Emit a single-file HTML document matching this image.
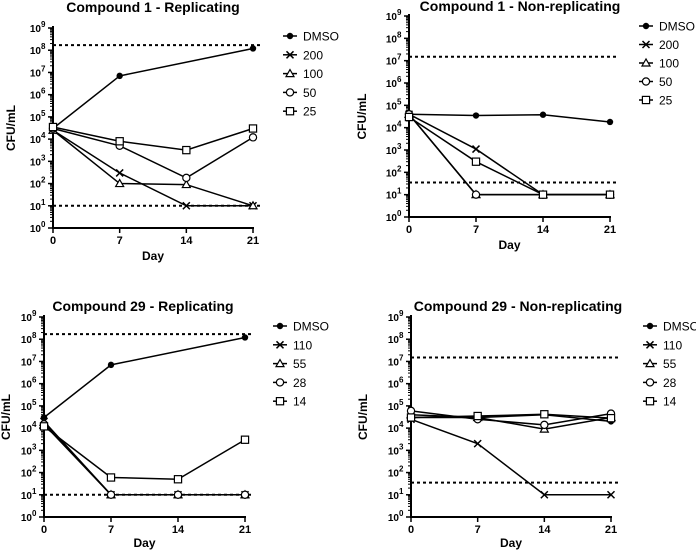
<!DOCTYPE html>
<html><head><meta charset="utf-8"><style>
html,body{margin:0;padding:0;background:#fff;}
svg{display:block;font-family:"Liberation Sans",Arial,sans-serif;}
</style></head><body>
<svg id="c" width="696" height="552" viewBox="0 0 696 552"></svg>
<script>
const days = [0, 7, 14, 21];
const p1Labels = ["DMSO", "200", "100", "50", "25"];
const p1DMSO = [3e4, 7e6, null, 1.2e8];
const p1S200 = [2.5e4, 300, 10, 10];
const p1S100 = [2.5e4, 100, 90, 10];
const p1S50 = [3e4, 5000, 180, 1.2e4];
const p1S25 = [3.5e4, 8000, 3200, 3e4];
const p1Limits = [1.7e8, 10];

const p2Labels = ["DMSO", "200", "100", "50", "25"];
const p2DMSO = [4e4, 3.5e4, 3.8e4, 1.8e4];
const p2S200 = [4e4, 1100, 10, 10];
const p2S100 = [4e4, 10, 10, 10];
const p2S50 = [4e4, 10, 10, 10];
const p2S25 = [3e4, 300, 10, 10];
const p2Limits = [1.5e7, 35];

const p3Labels = ["DMSO", "110", "55", "28", "14"];
const p3DMSO = [3e4, 7e6, null, 1.2e8];
const p3S110 = [2e4, 10, 10, 10];
const p3S55 = [1.8e4, 10, 10, 10];
const p3S28 = [1.5e4, 10, 10, 10];
const p3S14 = [1.2e4, 60, 50, 3000];
const p3Limits = [1.7e8, 10];

const p4Labels = ["DMSO", "110", "55", "28", "14"];
const p4DMSO = [3e4, 3e4, 4e4, 2e4];
const p4S110 = [2.5e4, 2000, 10, 10];
const p4S55 = [4e4, 3e4, 9000, 3e4];
const p4S28 = [6e4, 2.5e4, 1.4e4, 4.5e4];
const p4S14 = [3e4, 3.5e4, 4.2e4, 2.8e4];
const p4Limits = [1.5e7, 35];

const xTicks = [0, 7, 14, 21];
const yExps = [0,1,2,3,4,5,6,7,8,9];
const markers = ["dot", "x", "tri", "circ", "sq"];

const NS = "http://www.w3.org/2000/svg";
const svg = document.getElementById("c");
function mk(tag, attrs, parent) {
  const e = document.createElementNS(NS, tag);
  for (const k in attrs) e.setAttribute(k, attrs[k]);
  (parent || svg).appendChild(e);
  return e;
}

function marker(g, type, x, y) {
  let m;
  if (type === "dot") m = mk("circle", {cx:x, cy:y, r:3.2, fill:"#000"}, g);
  else if (type === "circ") m = mk("circle", {cx:x, cy:y, r:3.6, fill:"#fff", stroke:"#000", "stroke-width":1.2}, g);
  else if (type === "sq") m = mk("rect", {x:x-3.6, y:y-3.6, width:7.2, height:7.2, fill:"#fff", stroke:"#000", "stroke-width":1.2}, g);
  else if (type === "tri") m = mk("polygon", {points:`${x},${y-4} ${x-4},${y+3} ${x+4},${y+3}`, fill:"#fff", stroke:"#000", "stroke-width":1.2}, g);
  else m = mk("path", {d:`M${x-3.5} ${y-3.5}L${x+3.5} ${y+3.5}M${x-3.5} ${y+3.5}L${x+3.5} ${y-3.5}`, stroke:"#000", "stroke-width":1.5}, g);
  return m;
}

function panel(cfg) {
  const g = mk("g", {});
  
  
  const xS = d => cfg.x0 + (d / 21) * (cfg.x1 - cfg.x0);
  const yS = v => cfg.yBot - Math.log10(v) * (cfg.yBot - cfg.yTop) / 9;

  const t = mk("text", {x:cfg.tx, y:cfg.ty, "text-anchor":"middle", "font-size":14, "font-weight":"bold"}, g);
  t.textContent = cfg.title;
  
  

  const ya = mk("line", {x1:cfg.x0, y1:cfg.yTop-2, x2:cfg.x0, y2:cfg.yBot, stroke:"#000", "stroke-width":2}, g);
  
  
  const xa = mk("line", {x1:cfg.x0-1, y1:cfg.yBot, x2:xS(21)+1, y2:cfg.yBot, stroke:"#000", "stroke-width":2}, g);
  
  

  yExps.forEach(e => {
    const y = yS(Math.pow(10, e));
    mk("line", {x1:cfg.x0-5, y1:y, x2:cfg.x0, y2:y, stroke:"#000", "stroke-width":1.5}, g);
    if (e < 9) for (let k = 2; k < 10; k++) {
      const yy = yS(k * Math.pow(10, e));
      mk("line", {x1:cfg.x0-3, y1:yy, x2:cfg.x0, y2:yy, stroke:"#000", "stroke-width":1}, g);
    }
    const lb = mk("text", {x:cfg.x0-12, y:y+4, "text-anchor":"end", "font-size":10, "font-weight":"bold"}, g);
    lb.textContent = "10";
    
    
    const sp = mk("text", {x:cfg.x0-12, y:y-1, "font-size":8, "font-weight":"bold"}, g);
    sp.textContent = String(e);
    
    
  });
  xTicks.forEach(d => {
    const x = xS(d);
    mk("line", {x1:x, y1:cfg.yBot, x2:x, y2:cfg.yBot+5, stroke:"#000", "stroke-width":1.5}, g);
    const lb = mk("text", {x:x, y:cfg.yBot+16, "text-anchor":"middle", "font-size":11, "font-weight":"bold"}, g);
    lb.textContent = String(d);
    
    
  });
  const xt = mk("text", {x:xS(10.5), y:cfg.yBot+cfg.dayOff, "text-anchor":"middle", "font-size":12, "font-weight":"bold"}, g);
  xt.textContent = "Day";
  
  
  const ym = (cfg.yTop + cfg.yBot) / 2;
  const yt = mk("text", {x:cfg.ylx, y:ym, "text-anchor":"middle", "font-size":12, "font-weight":"bold", transform:`rotate(-90 ${cfg.ylx} ${ym})`}, g);
  yt.textContent = "CFU/mL";
  
  

  cfg.limits.forEach(v => {
    const l = mk("line", {x1:cfg.x0, y1:yS(v), x2:xS(21)+8, y2:yS(v), stroke:"#000", "stroke-width":2, "stroke-dasharray":"3,3"}, g);
    
    
  });

  cfg.series.forEach((vals, i) => {
    const pts = [];
    vals.forEach((v, j) => { if (v != null) pts.push([xS(days[j]), yS(v)]); });
    const p = mk("polyline", {points:pts.map(p => p.join(",")).join(" "), fill:"none", stroke:"#000", "stroke-width":1.5}, g);
    
    
  });
  cfg.series.forEach((vals, i) => {
    vals.forEach((v, j) => {
      if (v == null) return;
      const m = marker(g, markers[i], xS(days[j]), yS(v));
      
      
    });
  });

  cfg.labels.forEach((lab, i) => {
    const y = cfg.ly + i * cfg.ldy;
    const lg = mk("g", {}, g);
    
    
    mk("line", {x1:cfg.lx-7, y1:y, x2:cfg.lx+7, y2:y, stroke:"#000", "stroke-width":1.5}, lg);
    marker(lg, markers[i], cfg.lx, y);
    const tx = mk("text", {x:cfg.lx+13, y:y+4.5, "font-size":12}, lg);
    tx.textContent = lab;
  });
}

panel({name:"panel-compound1-replicating", title:"Compound 1 - Replicating", tx:153, ty:12,
  x0:53, x1:253, yTop:28, yBot:228, ylx:15, lx:290, ly:36, ldy:18.8, dayOff:32,
  labels:p1Labels, series:[p1DMSO,p1S200,p1S100,p1S50,p1S25], limits:p1Limits});
panel({name:"panel-compound1-nonreplicating", title:"Compound 1 - Non-replicating", tx:520, ty:11,
  x0:409, x1:610, yTop:16, yBot:217, ylx:366, lx:646, ly:26, ldy:18.5, dayOff:32,
  labels:p2Labels, series:[p2DMSO,p2S200,p2S100,p2S50,p2S25], limits:p2Limits});
panel({name:"panel-compound29-replicating", title:"Compound 29 - Replicating", tx:143, ty:311,
  x0:44, x1:245, yTop:317, yBot:517, ylx:10, lx:280, ly:326, ldy:18.8, dayOff:30,
  labels:p3Labels, series:[p3DMSO,p3S110,p3S55,p3S28,p3S14], limits:p3Limits});
panel({name:"panel-compound29-nonreplicating", title:"Compound 29 - Non-replicating", tx:518, ty:311,
  x0:411, x1:611, yTop:317, yBot:517, ylx:367, lx:650, ly:326, ldy:18.8, dayOff:30,
  labels:p4Labels, series:[p4DMSO,p4S110,p4S55,p4S28,p4S14], limits:p4Limits});
</script>
</body></html>
